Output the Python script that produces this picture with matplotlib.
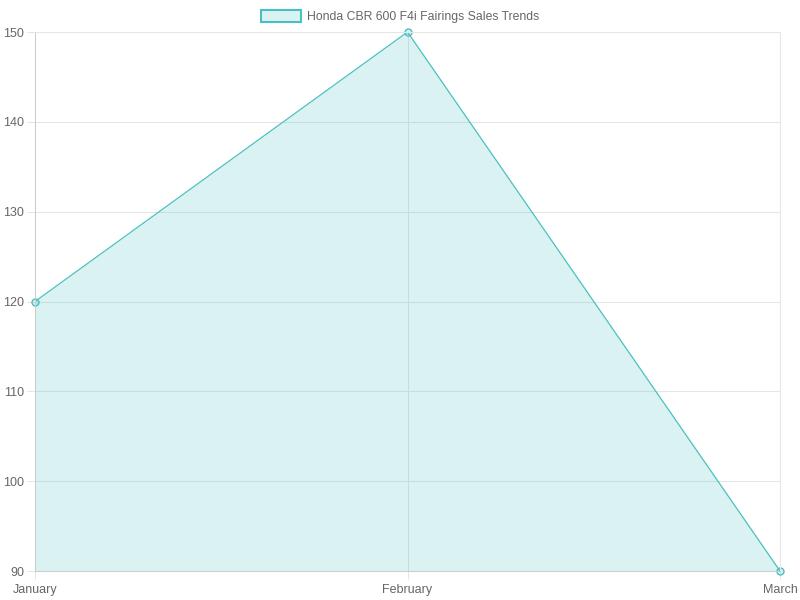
import numpy as np
import matplotlib.pyplot as plt

months = ['January', 'February', 'March']
sales = [120, 150, 90]
series_label = 'Honda CBR 600 F4i Fairings Sales Trends'
y_ticks = [90, 100, 110, 120, 130, 140, 150]

line_color = (75/255, 192/255, 192/255)
fill_color = (75/255, 192/255, 192/255, 0.2)
grid_color = '#e5e5e5'
text_color = '#666666'

plt.rcParams['font.family'] = ['Liberation Sans', 'DejaVu Sans']

fig = plt.figure(figsize=(8, 6), dpi=100)
ax = fig.add_axes([35/800, 1 - 571/600, 745/800, 539/600])

x = np.arange(len(months))
ax.fill_between(x, sales, 90, color=fill_color, linewidth=0)
ax.plot(x, sales, color=line_color, linewidth=0.9)
ax.plot(x, sales, 'o', markersize=5, markerfacecolor=fill_color,
        markeredgecolor=line_color, markeredgewidth=1, clip_on=False)

ax.set_xlim(0, len(months) - 1)
ax.set_ylim(90, 150)
ax.set_xticks(x)
ax.set_xticklabels(months)
ax.set_yticks(y_ticks)

ax.grid(True, color=grid_color, linewidth=0.75)
ax.set_axisbelow(True)
for side in ['top', 'right']:
    ax.spines[side].set_color(grid_color)
for side in ['left', 'bottom']:
    ax.spines[side].set_color('#cccccc')
for s in ax.spines.values():
    s.set_linewidth(0.75)
ax.tick_params(colors=grid_color, labelcolor=text_color, labelsize=9,
               length=6, width=0.75)
ax.tick_params(axis='x', pad=3.5)
ax.tick_params(axis='y', pad=2)

# legend drawn like a chart.js box
fig.patches.append(plt.Rectangle((261/800, 1 - 22/600), 40/800, 12/600,
                                 transform=fig.transFigure,
                                 facecolor=fill_color, edgecolor=line_color,
                                 linewidth=1.5))
fig.text(307/800, 1 - 17/600, series_label, fontsize=8.8, color=text_color,
         va='center', ha='left')

fig.savefig('out.png', dpi=100)
